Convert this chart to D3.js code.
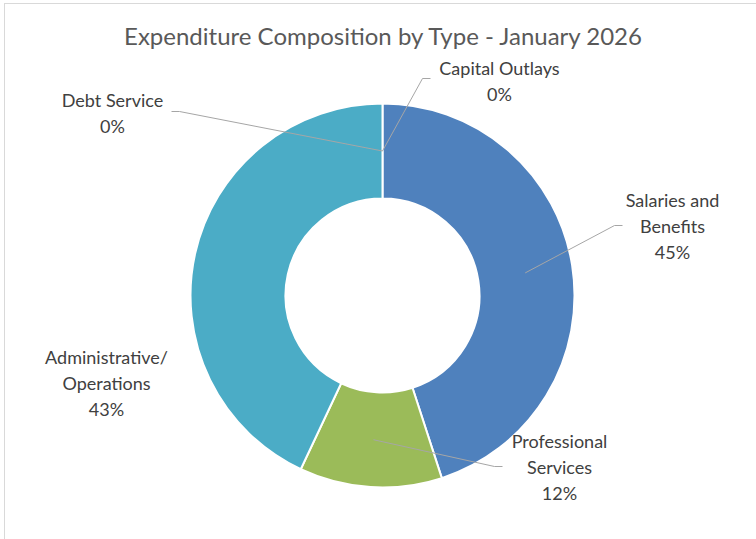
<!DOCTYPE html>
<html>
<head>
<meta charset="utf-8">
<script src="https://cdn.jsdelivr.net/npm/d3@7"></script>
<style>
  html, body { margin: 0; padding: 0; background: #ffffff; }
  svg { display: block; }
</style>
</head>
<body>
<svg id="chart" width="756" height="539"></svg>
<script>
// Expenditure categories, in the order the ring is drawn (clockwise from 12 o'clock)
const categories = ["Salaries and Benefits", "Professional Services", "Administrative/Operations", "Debt Service", "Capital Outlays"];
// Share of total expenditure, percent
const values = [45, 12, 43, 0, 0];
// Label lines as shown next to each slice
const labelLines = [
  ["Salaries and", "Benefits"],
  ["Professional", "Services"],
  ["Administrative/", "Operations"],
  ["Debt Service"],
  ["Capital Outlays"]
];
const colors = ["#4F81BD", "#9BBB59", "#4BACC6", "#8064A2", "#F79646"];
const titleText = "Expenditure Composition by Type - January 2026";

// Label placement: text centre (first line baseline) and leader elbow, relative to ring centre
const labelLayout = [
  { tx: 290, ty: -89, elbow: [232, -70], end: [240, -70], leader: true },
  { tx: 177, ty: 152, elbow: [112, 171], end: [120, 171], leader: true },
  { tx: -276, ty: 68, leader: false },
  { tx: -270, ty: -189, elbow: [-203, -184], end: [-211, -184], leader: true },
  { tx: 117, ty: -221, elbow: [40, -217], end: [48, -217], leader: true }
];

const svg = d3.select("#chart");
const W = 756, H = 539;
const cx = 382.5, cy = 295.5, outerR = 192, innerR = 97;

// chart frame
svg.append("rect")
  .attr("x", 4.5).attr("y", 3.5)
  .attr("width", W + 10).attr("height", H + 10)
  .attr("fill", "#ffffff")
  .attr("stroke", "#D9D9D9").attr("stroke-width", 1);

svg.append("text")
  .attr("x", 383).attr("y", 45)
  .attr("text-anchor", "middle")
  .attr("font-family", "Lato, sans-serif")
  .attr("font-size", 24)
  .attr("fill", "#595959")
  .text(titleText);

const data = categories.map((c, i) => ({ name: c, value: values[i], i }));

const pie = d3.pie().value(d => d.value).sort(null).startAngle(0).endAngle(2 * Math.PI);
const arcs = pie(data);
const arc = d3.arc().innerRadius(innerR).outerRadius(outerR);

const g = svg.append("g").attr("transform", `translate(${cx},${cy})`);

g.selectAll("path.slice")
  .data(arcs.filter(a => a.data.value > 0))
  .join("path")
  .attr("class", "slice")
  .attr("d", arc)
  .attr("fill", d => colors[d.data.i])
  .attr("stroke", "#ffffff")
  .attr("stroke-width", 2)
  .attr("stroke-linejoin", "miter");

// leader lines from slice centroid to label
g.selectAll("polyline.leader")
  .data(arcs.filter(a => labelLayout[a.data.i].leader))
  .join("polyline")
  .attr("class", "leader")
  .attr("fill", "none")
  .attr("stroke", "#A6A6A6")
  .attr("stroke-width", 1)
  .attr("points", d => {
    const L = labelLayout[d.data.i];
    const c = arc.centroid(d);
    return [c, L.elbow, L.end].map(p => p.join(",")).join(" ");
  });

// data labels: category name lines plus percent
const fmt = d3.format(".0%");
const total = d3.sum(values);
const labels = g.selectAll("text.lbl")
  .data(arcs)
  .join("text")
  .attr("class", "lbl")
  .attr("text-anchor", "middle")
  .attr("font-family", "Lato, sans-serif")
  .attr("font-size", 18)
  .attr("fill", "#404040");

labels.each(function(d) {
  const L = labelLayout[d.data.i];
  const lines = labelLines[d.data.i].concat([fmt(d.data.value / total)]);
  d3.select(this).selectAll("tspan")
    .data(lines)
    .join("tspan")
    .attr("x", L.tx)
    .attr("y", (t, k) => L.ty + k * 26)
    .text(t => t);
});
</script>
</body>
</html>
